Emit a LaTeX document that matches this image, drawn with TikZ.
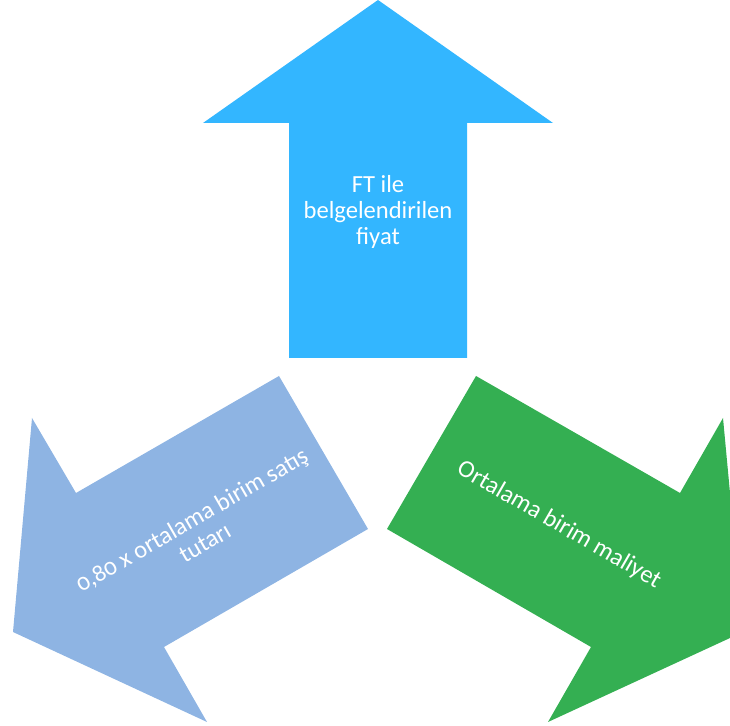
\documentclass[tikz,border=0pt]{standalone}
\usepackage{fontspec}
\setmainfont{Carlito}
\usetikzlibrary{positioning}

\begin{document}
\begin{tikzpicture}
    [
        x=0.02cm, y=0.02cm,
        top_arrow/.style={fill={rgb,255:red,51;green,182;blue,255}, draw=none},
        left_arrow/.style={fill={rgb,255:red,142;green,180;blue,227}, draw=none},
        right_arrow/.style={fill={rgb,255:red,52;green,175;blue,82}, draw=none},
        arrow_text/.style={text=white, align=center, font=\fontsize{14}{15}\selectfont},
    ]

  \useasboundingbox (0,0) rectangle (730,726);
  \clip (0,0) rectangle (730,726);

  % up arrow
  \draw[top_arrow] (378,726) -- (553,603) -- (467,603) -- (467,368) -- (289,368) -- (289,603) -- (203,603) -- cycle;
  % down-left arrow
  \draw[left_arrow] (13,94) -- (32,308) -- (76,233) -- (279,350) -- (368,197) -- (164,79) -- (207,4) -- cycle;
  % down-right arrow
  \draw[right_arrow] (743,94) -- (723,308) -- (680,233) -- (476,350) -- (387,197) -- (591,79) -- (548,4) -- cycle;

  \node[arrow_text] (price) at (378,514) {FT ile\\belgelendirilen\\fiyat};
  \node[arrow_text, rotate=30] (sale) at (198,195) {\addfontfeatures{Numbers=OldStyle}0,80 x ortalama birim satış\\tutarı};
  \node[arrow_text, rotate=-30] (cost) at (559,201) {Ortalama birim maliyet};
\end{tikzpicture}
\end{document}
